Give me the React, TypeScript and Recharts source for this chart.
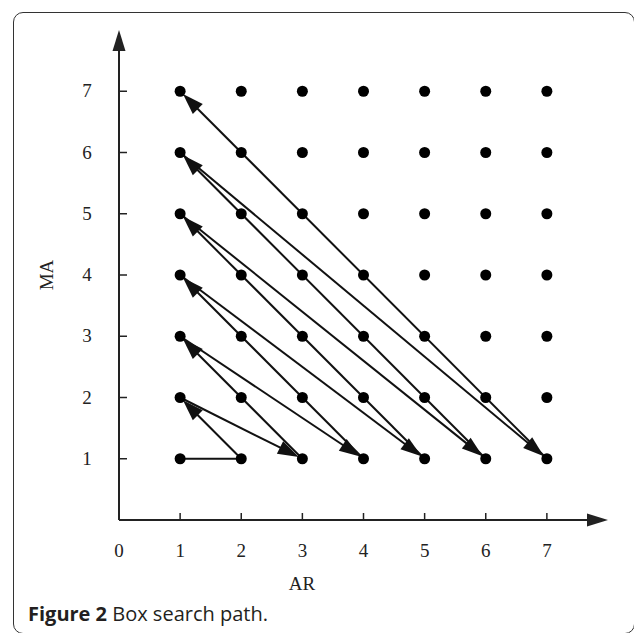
import React from 'react';
import { ScatterChart, Scatter, XAxis, YAxis, ReferenceLine } from 'recharts';

// tick labels
const arTicks = [0, 1, 2, 3, 4, 5, 6, 7];
const maTicks = [1, 2, 3, 4, 5, 6, 7];

// grid of candidate (AR, MA) orders
const gridAR = [1, 2, 3, 4, 5, 6, 7];
const gridMA = [1, 2, 3, 4, 5, 6, 7];

// box search path, visited in this order
const pathAR = [1, 2, 1, 3, 1, 4, 1, 5, 1, 6, 1, 7, 1];
const pathMA = [1, 1, 2, 1, 3, 1, 4, 1, 5, 1, 6, 1, 7];

const dots = gridMA.flatMap((ma) => gridAR.map((ar) => ({ ar, ma })));

const segments = pathAR.slice(1).map((ar, i) => ({
  from: { x: pathAR[i], y: pathMA[i] },
  to: { x: ar, y: pathMA[i + 1] },
  head: i > 0,
}));

const serif = '"Liberation Serif", "Times New Roman", serif';
const ink = '#111';

const arrowShape = (head: boolean, headLen: number, halfW: number, gap: number, width: number, color: string) =>
  (props: any) => {
    const { x1, y1, x2, y2 } = props;
    const dx = x2 - x1;
    const dy = y2 - y1;
    const len = Math.hypot(dx, dy) || 1;
    const ux = dx / len;
    const uy = dy / len;
    const tx = x2 - ux * gap;
    const ty = y2 - uy * gap;
    const bx = tx - ux * headLen;
    const by = ty - uy * headLen;
    const px = -uy * halfW;
    const py = ux * halfW;
    return (
      <g>
        <line
          x1={x1}
          y1={y1}
          x2={head ? bx + ux * 2 : x2}
          y2={head ? by + uy * 2 : y2}
          stroke={color}
          strokeWidth={width}
        />
        {head && (
          <polygon
            points={`${tx},${ty} ${bx + px},${by + py} ${bx - px},${by - py}`}
            fill={color}
          />
        )}
      </g>
    );
  };

const XTick = (props: any) => {
  const { x, y, payload } = props;
  return (
    <g>
      {payload.value !== 0 && <line x1={x} y1={y} x2={x} y2={y - 7} stroke="#222" strokeWidth={1.5} />}
      <text x={x} y={y + 37} textAnchor="middle" fontFamily={serif} fontSize={19} fill="#222">
        {payload.value}
      </text>
    </g>
  );
};

const YTick = (props: any) => {
  const { x, y, payload } = props;
  return (
    <g>
      <line x1={x} y1={y} x2={x + 8} y2={y} stroke="#222" strokeWidth={1.5} />
      <text x={x - 32} y={y + 6} textAnchor="middle" fontFamily={serif} fontSize={19} fill="#222">
        {payload.value}
      </text>
    </g>
  );
};

const App: React.FC = () => {
  return (
    <div style={{ position: 'absolute', left: 0, top: 0, width: 634, height: 633, background: '#fff' }}>
      <div
        style={{
          position: 'absolute',
          left: 13,
          top: 12,
          width: 620,
          height: 620,
          border: '1.5px solid #333',
          borderRadius: 10,
        }}
      />
      <div style={{ position: 'absolute', left: 0, top: 0 }}>
        <ScatterChart width={634} height={633} margin={{ top: 30, right: 26, left: 19, bottom: 0 }}>
          <XAxis
            type="number"
            dataKey="ar"
            domain={[0, 8]}
            ticks={arTicks}
            height={113}
            axisLine={false}
            tickLine={false}
            tickSize={0}
            tickMargin={0}
            tick={<XTick />}
            interval={0}
            label={{
              content: (p: any) => (
                <text
                  x={p.viewBox.x + 183}
                  y={p.viewBox.y + 70}
                  textAnchor="middle"
                  fontFamily={serif}
                  fontSize={19}
                  fill="#222"
                >
                  AR
                </text>
              ),
            }}
          />
          <YAxis
            type="number"
            dataKey="ma"
            domain={[0, 8]}
            ticks={maTicks}
            width={100}
            axisLine={false}
            tickLine={false}
            tickSize={0}
            tickMargin={0}
            tick={<YTick />}
            interval={0}
            label={{
              content: (p: any) => {
                const cx = p.viewBox.x + 28;
                const cy = p.viewBox.y + p.viewBox.height / 2;
                return (
                  <text
                    x={cx}
                    y={cy}
                    dy={6}
                    textAnchor="middle"
                    transform={`rotate(-90 ${cx} ${cy})`}
                    fontFamily={serif}
                    fontSize={19}
                    fill="#222"
                  >
                    MA
                  </text>
                );
              },
            }}
          />
          <ReferenceLine
            segment={[{ x: 0, y: 0 }, { x: 8, y: 0 }]}
            shape={arrowShape(true, 21, 6.5, 0, 2, '#222')}
          />
          <ReferenceLine
            segment={[{ x: 0, y: 0 }, { x: 0, y: 8 }]}
            shape={arrowShape(true, 21, 6.5, 0, 2, '#222')}
          />
          {segments.map((s, i) => (
            <ReferenceLine
              key={i}
              segment={[s.from, s.to]}
              shape={arrowShape(s.head, 21, 7, 4, 2, ink)}
            />
          ))}
          <Scatter
            data={dots}
            isAnimationActive={false}
            shape={(p: any) => <circle cx={p.cx} cy={p.cy} r={5.5} fill="#000" />}
          />
        </ScatterChart>
      </div>
      <div
        style={{
          position: 'absolute',
          left: 28,
          top: 600,
          fontFamily: '"Open Sans", sans-serif',
          fontSize: 20,
          color: '#231f20',
          whiteSpace: 'nowrap',
        }}
      >
        <b>Figure 2</b> Box search path.
      </div>
    </div>
  );
};

export default App;
